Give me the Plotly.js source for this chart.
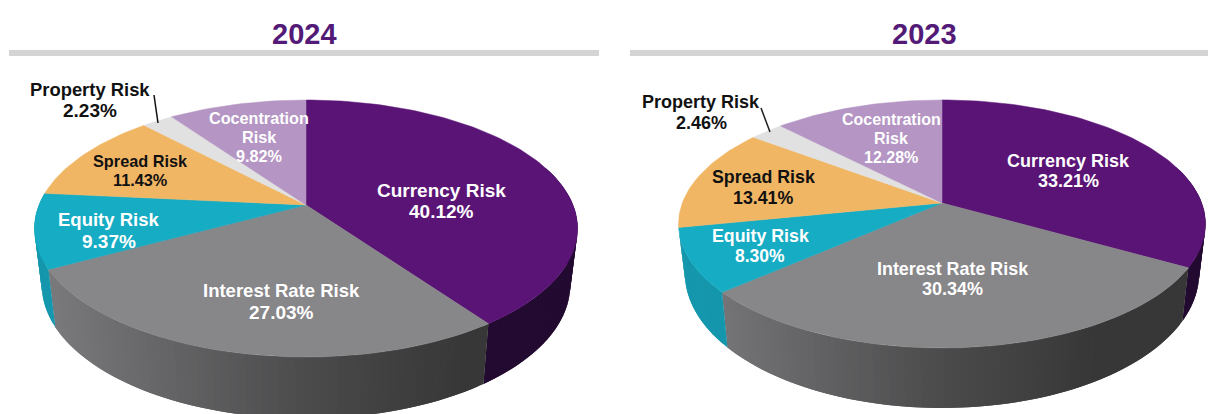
<!DOCTYPE html>
<html><head><meta charset="utf-8">
<script src="https://cdn.plot.ly/plotly-3.0.1.min.js"></script>
<style>html,body{margin:0;padding:0;background:#fff}#c{width:1208px;height:414px}</style>
</head><body><div id="c"></div>
<script>
// DATA
const categories = ['Currency Risk','Interest Rate Risk','Equity Risk','Spread Risk','Property Risk','Cocentration Risk'];
const values2024 = [40.12,27.03,9.37,11.43,2.23,9.82];
const values2023 = [33.21,30.34,8.30,13.41,2.46,12.28];

// STYLE
const topColors = ['#5a1476','#878689','#16acc3','#f1b664','#e1e1e1','#b495c3'];
const wallLeft  = ['#230a30','#7a7a7d','#1597ad'];
const wallMid   = ['#230a30','#4b4b4c','#0f8ea4'];
const wallRight = ['#230a30','#373738','#0f8ea4'];

// PIE PROJECTION (screen geometry of each tilted pie)
const geo2024 = {cx:306,cy:205,k:0.183,a:124.2,b:267,shrink:0.973,d0:58,dy0:269,d1:0.04};
const geo2023 = {cx:942,cy:203,k:0.169,a:120.5,b:259.7,shrink:0.976,d0:53,dy0:267,d1:0.086};

function rim(g,deg){
  const t=deg*Math.PI/180, X=Math.sin(t), Y=-Math.cos(t), w=1/(1-g.k*Y);
  return [g.cx+g.b*X*w, g.cy+g.a*Y*w, Y];
}
function low(g,p){ return [g.cx+(p[0]-g.cx)*g.shrink, p[1]+g.d0+(p[1]-g.dy0)*g.d1]; }
function hex(c){return [1,3,5].map(i=>parseInt(c.slice(i,i+2),16));}
function mix(a,b,f){const A=hex(a),B=hex(b);return 'rgb('+A.map((v,i)=>Math.round(v+(B[i]-v)*f)).join(',')+')';}
function wallColor(g,i,x){
  const u=(x-g.cx)/g.b;
  if(u<0){return mix(wallMid[i],wallLeft[i],Math.min(1,-u/0.97));}
  return mix(wallMid[i],wallRight[i],Math.min(1,u/0.6));
}
function poly(xs,ys,color,lw){
  return {type:'scatter',mode:'lines',x:xs,y:ys,fill:'toself',fillcolor:color,
          line:{color:color,width:lw},hoverinfo:'skip',showlegend:false};
}
function pieTraces(g,values){
  const walls=[],tops=[];
  let start=0;
  values.forEach((v,i)=>{
    const end=start+v*3.6, n=Math.max(2,Math.ceil((end-start)/1.5));
    const xs=[g.cx],ys=[g.cy];
    for(let j=0;j<=n;j++){
      const d=start+(end-start)*j/n, p=rim(g,d);
      xs.push(p[0]);ys.push(p[1]);
      if(j<n && i<wallMid.length){
        const q=rim(g,start+(end-start)*(j+1)/n);
        const r=j+2<=n?rim(g,start+(end-start)*(j+2)/n):q;
        if(p[2]>-0.3||q[2]>-0.3){
          const pl=low(g,p),ql=low(g,q),rl=low(g,r);
          walls.push(poly([p[0],q[0],r[0],rl[0],ql[0],pl[0],p[0]],[p[1],q[1],r[1],rl[1],ql[1],pl[1],p[1]],
                          wallColor(g,i,(p[0]+q[0])/2),0));
        }
      }
    }
    xs.push(g.cx);ys.push(g.cy);
    tops.push(poly(xs,ys,topColors[i],0.5));
    start=end;
  });
  return walls.concat(tops);
}
const traces=pieTraces(geo2024,values2024).concat(pieTraces(geo2023,values2023));

// TEXT
const W='#ffffff',K='#111111';
const labels=[
 ['Currency Risk',441,190,19,W],['40.12%',441,211,19,W],
 ['Interest Rate Risk',281,290,18.5,W],['27.03%',281,312,19,W],
 ['Equity Risk',108,219,18.5,W],['9.37%',109,241,19,W],
 ['Spread Risk',140,161,16.3,K],['11.43%',140,180,16.3,K],
 ['Property Risk',90,89,18.4,K],['2.23%',90,110,19,K],
 ['Cocentration',259,118,16.2,W],['Risk',259,137,16.2,W],['9.82%',259,156,16.2,W],
 ['Currency Risk',1068,161,18,W],['33.21%',1068,181,18,W],
 ['Interest Rate Risk',952,269,17.9,W],['30.34%',952,289,18,W],
 ['Equity Risk',760,236,17.8,W],['8.30%',760,256,17.5,W],
 ['Spread Risk',763,177,17.8,K],['13.41%',763,198,17.8,K],
 ['Property Risk',701,102,18,K],['2.46%',701,123,18,K],
 ['Cocentration',891,119,16,W],['Risk',891,138,16,W],['12.28%',891,157,16,W]
];
const annotations=labels.map(l=>({xref:'x',yref:'y',x:l[1],y:l[2],text:'<b>'+l[0]+'</b>',showarrow:false,
  xanchor:'center',yanchor:'middle',font:{family:'"Liberation Sans",Arial,sans-serif',size:l[3],color:l[4]}}));
[['2024',304],['2023',924]].forEach(t=>annotations.push({xref:'x',yref:'y',x:t[1],y:34,text:'<b>'+t[0]+'</b>',
  showarrow:false,xanchor:'center',yanchor:'middle',font:{family:'"Liberation Sans",Arial,sans-serif',size:29,color:'#531a78'}}));

const shapes=[
 {type:'rect',xref:'x',yref:'y',x0:9,x1:599,y0:50,y1:56,fillcolor:'#d4d4d4',line:{width:0}},
 {type:'rect',xref:'x',yref:'y',x0:630,x1:1208,y0:50,y1:56,fillcolor:'#d4d4d4',line:{width:0}},
 {type:'line',xref:'x',yref:'y',x0:154,y0:95,x1:158,y1:123,line:{color:'#111',width:1.5}},
 {type:'line',xref:'x',yref:'y',x0:761,y0:108,x1:770,y1:132,line:{color:'#222',width:1.5}}
];
Plotly.newPlot('c',traces,{
  width:1208,height:414,margin:{l:0,r:0,t:0,b:0},paper_bgcolor:'#fff',plot_bgcolor:'#fff',showlegend:false,
  xaxis:{range:[0,1208],visible:false,fixedrange:true},
  yaxis:{range:[414,0],visible:false,fixedrange:true},
  annotations:annotations,shapes:shapes
},{displayModeBar:false,staticPlot:true});
</script></body></html>
